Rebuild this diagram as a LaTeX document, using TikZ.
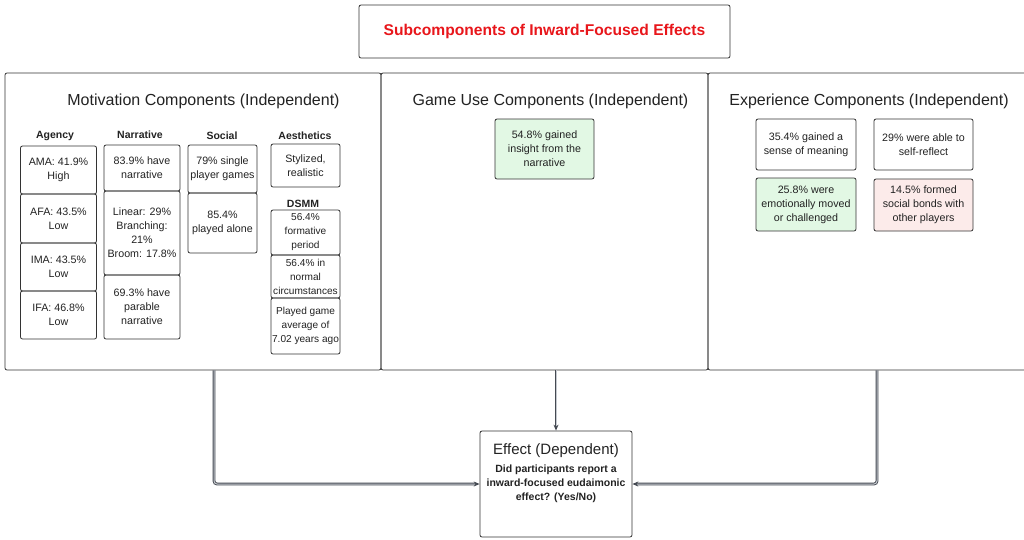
\documentclass[tikz,border=0pt]{standalone}
\usepackage{fontspec}
\setmainfont{Liberation Sans}
\usetikzlibrary{arrows.meta}
\definecolor{ink}{HTML}{222222}
\definecolor{edge}{HTML}{333333}
\definecolor{titlered}{HTML}{E8161B}
\definecolor{greenfill}{HTML}{E2F8E4}
\definecolor{pinkfill}{HTML}{FCEBEA}
\definecolor{connc}{HTML}{454A52}
\definecolor{conninner}{HTML}{C5C9CF}
\begin{document}
\begin{tikzpicture}[x=1pt,y=-1pt,
 panel/.style={draw=edge, line width=0.8pt, rounded corners=2pt, inner sep=0pt},
 cbox/.style={draw=edge, line width=0.8pt, rounded corners=2pt, inner sep=0pt, align=center, text=ink, font=\fontsize{10.7}{14}\selectfont},
 smallbox/.style={cbox, font=\fontsize{10.1}{14}\selectfont},
 hdr/.style={font=\bfseries\fontsize{10.5}{12}\selectfont, text=ink, inner sep=0pt},
 ptitle/.style={font=\fontsize{16}{19}\selectfont, text=ink, inner sep=0pt},
 conn/.style={draw=connc, line width=0.9pt, double=conninner, double distance=1pt, rounded corners=3pt, -{Stealth[length=6pt,width=5pt]}}
]
\useasboundingbox (0,0) rectangle (1024,539);
\clip (0,0) rectangle (1024,539);
% title
\node[panel, minimum width=371pt, minimum height=53pt, text=titlered, font=\bfseries\fontsize{15.6}{18}\selectfont] (title) at (544.5,31.5) {Subcomponents of Inward-Focused Effects};
% panels
\node[panel, minimum width=376pt, minimum height=297pt] (mot) at (193,221.5) {};
\node[panel, minimum width=327pt, minimum height=297pt] (gu) at (544.5,221.5) {};
\node[panel, minimum width=322pt, minimum height=297pt] (exp) at (869,221.5) {};
\node[ptitle] (motT) at (203.5,101) {Motivation Components (Independent)};
\node[ptitle] (guT) at (550.5,101) {Game Use Components (Independent)};
\node[ptitle] (expT) at (869,101) {Experience Components (Independent)};
% headers
\node[hdr] (hAg) at (55,136) {Agency};
\node[hdr] (hNa) at (140,135) {Narrative};
\node[hdr] (hSo) at (222,136) {Social};
\node[hdr] (hAe) at (305,136) {Aesthetics};
\node[hdr] (hDs) at (303,204) {DSMM};
% agency
\node[cbox, minimum width=76pt, minimum height=48pt] (ama) at (58.5,170) {AMA: 41.9\%\\High};
\node[cbox, minimum width=76pt, minimum height=49pt] (afa) at (58.5,218.5) {AFA: 43.5\%\\Low};
\node[cbox, minimum width=76pt, minimum height=48pt] (ima) at (58.5,267) {IMA: 43.5\%\\Low};
\node[cbox, minimum width=76pt, minimum height=48pt] (ifa) at (58.5,315) {IFA: 46.8\%\\Low};
% narrative
\node[cbox, minimum width=76pt, minimum height=46pt] (n1) at (142,168) {83.9\% have\\narrative};
\node[cbox, minimum width=76pt, minimum height=84pt] (n2) at (142,233) {Linear: 29\%\\Branching:\\21\%\\Broom: 17.8\%};
\node[cbox, minimum width=76pt, minimum height=64pt] (n3) at (142,307) {69.3\% have\\parable\\narrative};
% social
\node[cbox, minimum width=69pt, minimum height=48pt] (s1) at (222.5,169) {79\% single\\player games};
\node[cbox, minimum width=69pt, minimum height=60pt] (s2) at (222.5,223) {85.4\%\\played alone};
% aesthetics
\node[cbox, minimum width=69pt, minimum height=43pt] (a1) at (305.5,165.5) {Stylized,\\realistic};
% dsmm
\node[smallbox, minimum width=69pt, minimum height=45pt] (d1) at (305.5,232.5) {56.4\%\\formative\\period};
\node[smallbox, minimum width=69pt, minimum height=43pt] (d2) at (305.5,276.5) {56.4\% in\\normal\\circumstances};
\node[smallbox, minimum width=69pt, minimum height=56pt] (d3) at (305.5,326) {Played game\\average of\\7.02 years ago};
% game use
\node[cbox, fill=greenfill, minimum width=99pt, minimum height=60pt] (g1) at (544.5,149) {54.8\% gained\\insight from the\\narrative};
% experience
\node[cbox, minimum width=100pt, minimum height=51pt] (e1) at (806,144.5) {35.4\% gained a\\sense of meaning};
\node[cbox, minimum width=99pt, minimum height=51pt] (e2) at (923.5,144.5) {29\% were able to\\self-reflect};
\node[cbox, fill=greenfill, minimum width=100pt, minimum height=53pt] (e3) at (806,204.5) {25.8\% were\\emotionally moved\\or challenged};
\node[cbox, fill=pinkfill, minimum width=99pt, minimum height=52pt] (e4) at (923.5,205) {14.5\% formed\\social bonds with\\other players};
% effect
\node[panel, minimum width=152pt, minimum height=106pt] (eff) at (556,484) {};
\node[font=\fontsize{15}{18}\selectfont, text=ink, inner sep=0pt] (effT) at (556,451) {Effect (Dependent)};
\node[font=\bfseries\fontsize{10.5}{14}\selectfont, text=ink, inner sep=0pt, align=center] (effQ) at (556,484) {Did participants report a\\inward-focused eudaimonic\\effect? (Yes/No)};
% connectors
\draw[conn] ([xshift=21pt]mot.south) |- (eff.west);
\draw[conn] (gu.south -| eff.north) -- (eff.north);
\draw[conn] ([xshift=8pt]exp.south) |- (eff.east);
\end{tikzpicture}
\end{document}
